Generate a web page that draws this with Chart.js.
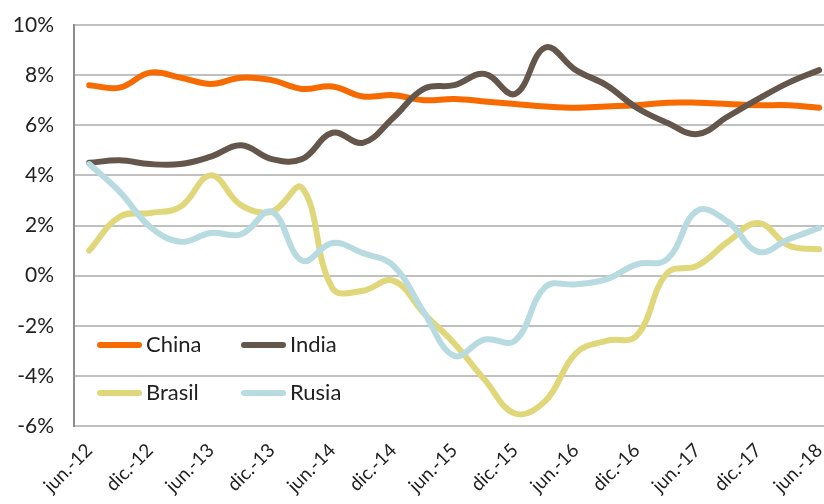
<!DOCTYPE html>
<html>
<head>
<meta charset="utf-8">
<script src="https://cdn.jsdelivr.net/npm/chart.js@4/dist/chart.umd.min.js"></script>
<style>
  body { margin: 0; background: #fff; overflow: hidden; }
  #wrap { position: relative; width: 824px; height: 504px; }
  #legend { position: absolute; left: 97px; top: 330px; font-family: Lato, sans-serif; font-size: 22px; color: #222; }
  .item { position: absolute; white-space: nowrap; }
  .item i { position: absolute; left: 0; width: 45px; height: 6px; border-radius: 3px; }
  .item span { position: absolute; left: 49px; top: 0; }
</style>
</head>
<body>
<div id="wrap">
  <canvas id="myChart" width="824" height="504"></canvas>
  <div id="legend"></div>
</div>
<script>
// semestral tick labels (data is quarterly, one label every 2 points)
var tickLabels = ['jun.-12','dic.-12','jun.-13','dic.-13','jun.-14','dic.-14','jun.-15','dic.-15','jun.-16','dic.-16','jun.-17','dic.-17','jun.-18'];

var china  = [7.6,7.5,8.1,7.9,7.65,7.9,7.8,7.45,7.55,7.15,7.2,7.0,7.05,6.95,6.85,6.75,6.7,6.75,6.8,6.9,6.9,6.85,6.8,6.8,6.7];
var india  = [4.5,4.6,4.45,4.45,4.75,5.2,4.65,4.65,5.7,5.3,6.3,7.45,7.6,8.05,7.25,9.1,8.2,7.6,6.7,6.1,5.65,6.35,7.05,7.7,8.2];
var brasil = [1.0,2.35,2.5,2.75,4.0,2.8,2.55,3.5,-0.5,-0.6,-0.2,-1.5,-2.7,-4.15,-5.5,-5.0,-3.1,-2.6,-2.4,0.1,0.4,1.35,2.1,1.2,1.05];
var rusia  = [4.45,3.35,1.95,1.35,1.7,1.65,2.55,0.6,1.3,0.9,0.4,-1.45,-3.2,-2.55,-2.6,-0.45,-0.35,-0.15,0.45,0.65,2.6,2.15,0.95,1.45,1.9];

var names  = ['China','India','Brasil','Rusia'];
var colors = ['#f76a00','#64564a','#e0d67a','#b7dbe0'];

function pts(arr) {
    return arr.map(function (v, i) { return { x: i, y: v }; });
}

var ctx = document.getElementById('myChart').getContext('2d');
var series = [china, india, brasil, rusia];

var myChart = new Chart(ctx, {
    type: 'line',
    data: {
        datasets: series.map(function (s, k) {
            return {
                label: names[k],
                data: pts(s),
                borderColor: colors[k],
                backgroundColor: colors[k],
                borderWidth: 6,
                borderCapStyle: 'round',
                borderJoinStyle: 'round',
                pointRadius: 0,
                tension: 0.4,
                order: 3 - k
            };
        })
    },
    options: {
        responsive: false,
        animation: false,
        layout: { padding: { top: 25, right: 0, left: 0, bottom: 0 } },
        plugins: { legend: { display: false }, tooltip: { enabled: false } },
        scales: {
            x: {
                type: 'linear',
                min: -0.5,
                max: 24.16,
                grid: { display: false },
                border: { display: false },
                afterBuildTicks: function (axis) {
                    axis.ticks = tickLabels.map(function (t, i) { return { value: i * 2 }; });
                },
                afterFit: function (scale) {
                    scale.height = 78;
                    scale.paddingRight = 0;
                    scale.paddingLeft = 0;
                },
                ticks: {
                    autoSkip: false,
                    minRotation: 45,
                    maxRotation: 45,
                    padding: 5,
                    color: '#222',
                    font: { family: 'Lato', size: 19 },
                    callback: function (v) { return tickLabels[v / 2]; }
                }
            },
            y: {
                min: -6,
                max: 10,
                grid: { color: '#c0c0c0', lineWidth: 2, drawTicks: false },
                border: { display: true, color: '#8c8c8c', width: 2 },
                afterFit: function (scale) {
                    scale.width = 74;
                    scale.paddingTop = 0;
                    scale.paddingBottom = 0;
                },
                ticks: {
                    stepSize: 2,
                    padding: 20,
                    color: '#222',
                    font: { family: 'Lato', size: 21 },
                    callback: function (v) { return v + '%'; }
                }
            }
        }
    }
});

// legend inside the plot area, two columns
var legend = document.getElementById('legend');
names.forEach(function (n, k) {
    var d = document.createElement('div');
    d.className = 'item';
    d.style.left = (k % 2) * 144 + 'px';
    d.style.top = Math.floor(k / 2) * 48 + 'px';
    d.innerHTML = '<i style="background:' + colors[k] + ';top:12px"></i><span>' + n + '</span>';
    legend.appendChild(d);
});
</script>
</body>
</html>
